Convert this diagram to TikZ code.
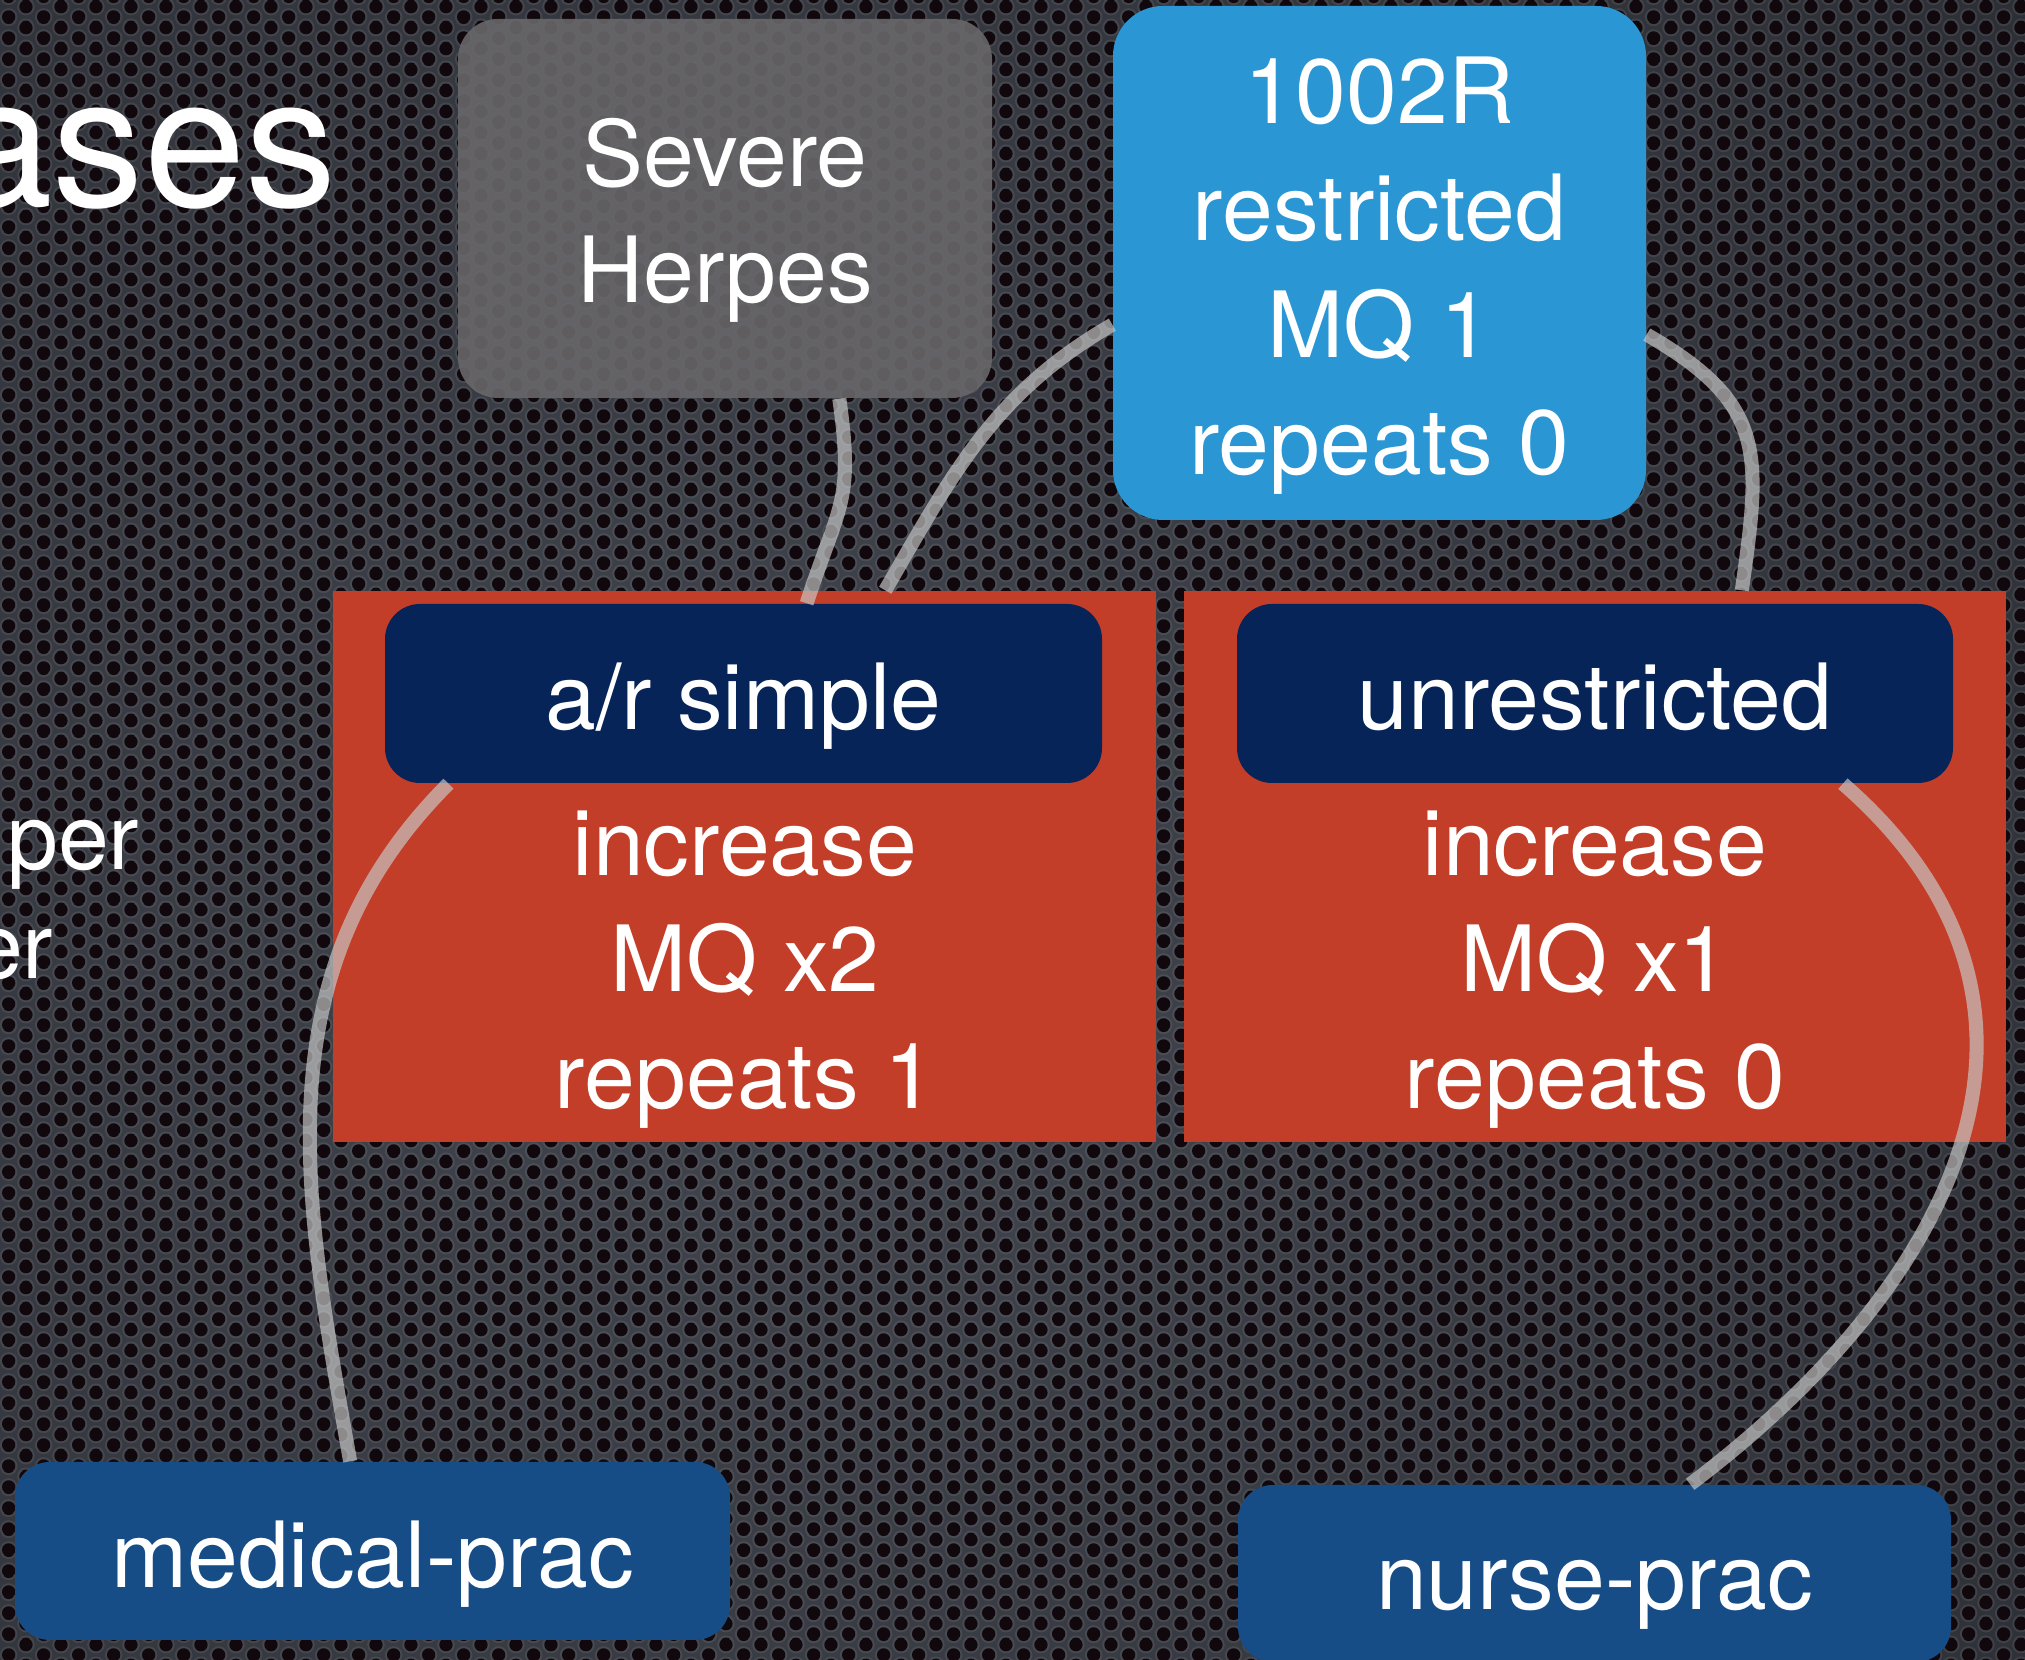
\documentclass[tikz,border=0pt]{standalone}
\usepackage{fontspec}
\setmainfont{TeX Gyre Heros}
\usetikzlibrary{patterns}

\definecolor{metalmid}{RGB}{66,70,78}
\definecolor{metaledge}{RGB}{22,22,28}
\definecolor{holeblack}{RGB}{16,8,12}
\definecolor{herpesgray}{RGB}{104,103,106}
\definecolor{drugblue}{RGB}{42,150,212}
\definecolor{brickred}{RGB}{195,62,40}
\definecolor{headnavy}{RGB}{6,36,88}
\definecolor{pracblue}{RGB}{22,77,135}
\definecolor{linkgray}{RGB}{200,200,200}

\pgfdeclarepatternformonly{metal holes}{\pgfpointorigin}{\pgfpoint{0.348cm}{0.207cm}}{\pgfpoint{0.348cm}{0.207cm}}{%
  \pgfpathcircle{\pgfpoint{0.087cm}{0.052cm}}{0.067cm}
  \pgfpathcircle{\pgfpoint{0.087cm}{0.259cm}}{0.067cm}
  \pgfpathcircle{\pgfpoint{0.261cm}{0.155cm}}{0.067cm}
  \pgfpathcircle{\pgfpoint{0.261cm}{-0.052cm}}{0.067cm}
  \pgfusepath{fill}}
\pgfdeclarepatternformonly{metal rings}{\pgfpointorigin}{\pgfpoint{0.348cm}{0.207cm}}{\pgfpoint{0.348cm}{0.207cm}}{%
  \pgfpathcircle{\pgfpoint{0.087cm}{0.052cm}}{0.088cm}
  \pgfpathcircle{\pgfpoint{0.087cm}{0.259cm}}{0.088cm}
  \pgfpathcircle{\pgfpoint{0.261cm}{0.155cm}}{0.088cm}
  \pgfpathcircle{\pgfpoint{0.261cm}{-0.052cm}}{0.088cm}
  \pgfusepath{fill}}

\newcommand\kstrut{\rule{0pt}{0.92cm}}

\begin{document}
\begin{tikzpicture}
\tikzstyle{every node}=[text=white, font=\fontsize{26}{33.2}\selectfont, align=center, inner sep=0pt]
\tikzstyle{box}=[rounded corners=0.35cm, fill]
\tikzstyle{oneline}=[text height=0.92cm, text depth=0.19cm]
\tikzstyle{link}=[draw=linkgray, draw opacity=0.68, line width=4pt]
\useasboundingbox (0,0) rectangle (20.25,16.6);
\clip (0,0) rectangle (20.25,16.6);
% perforated metal
\shade[inner color=metalmid, outer color=metaledge] (8,7) circle (32);
\fill[pattern=metal rings, pattern color=white, fill opacity=0.08] (0,0) rectangle (20.25,16.6);
\fill[pattern=metal holes, pattern color=holeblack] (0,0) rectangle (20.25,16.6);
% slide text cut at the left
\draw (3.38,14.53) node (title) [anchor=base east, font=\fontsize{52}{60}\selectfont] {ases};
\draw (1.40,7.90) node (bulletone) [anchor=base east] {per};
\draw (0.54,6.81) node (bullettwo) [anchor=base east] {er};
% top boxes
\draw (7.25,14.515) node (herpes) [box, rounded corners=0.4cm, fill=herpesgray, fill opacity=0.9, text opacity=1, minimum width=5.34cm, minimum height=3.79cm] {\kstrut Severe\\Herpes};
\draw (13.795,13.97) node (drug) [box, rounded corners=0.5cm, fill=drugblue, minimum width=5.33cm, minimum height=5.14cm] {\kstrut 1002R\\restricted\\MQ 1\\repeats 0};
% red groups
\draw (7.445,7.935) node (redleft) [fill=brickred, minimum width=8.23cm, minimum height=5.51cm] {};
\draw (15.95,7.935) node (redright) [fill=brickred, minimum width=8.22cm, minimum height=5.51cm] {};
\draw (7.435,9.665) node (arsimple) [box, fill=headnavy, oneline, minimum width=7.17cm, minimum height=1.79cm] {a/r simple};
\draw (15.95,9.665) node (unrestricted) [box, fill=headnavy, oneline, minimum width=7.16cm, minimum height=1.79cm] {unrestricted};
\draw (7.45,6.905) node (arterms) {increase\\MQ x2\\repeats 1};
\draw (15.95,6.905) node (unterms) {increase\\MQ x1\\repeats 0};
% bottom boxes
\draw (3.725,1.09) node (medical) [box, fill=pracblue, oneline, minimum width=7.15cm, minimum height=1.78cm] {medical-prac};
\draw (15.945,0.865) node (nurse) [box, fill=pracblue, oneline, minimum width=7.13cm, minimum height=1.77cm] {nurse-prac};
% links
\draw[link] (herpes.-59) to[out=-82,in=72,looseness=1.3] (arsimple.55);
\draw[link] (drug.193) to[out=210,in=60] (redleft.63);
\draw[link] (drug.-15) to[out=-30,in=82,looseness=1.3] (redright.62);
\draw[link] (arsimple.197) to[out=225,in=100] (medical.104);
\draw[link] (unrestricted.-20) to[out=-41,in=37,looseness=1.2] (nurse.43);
\end{tikzpicture}
\end{document}
